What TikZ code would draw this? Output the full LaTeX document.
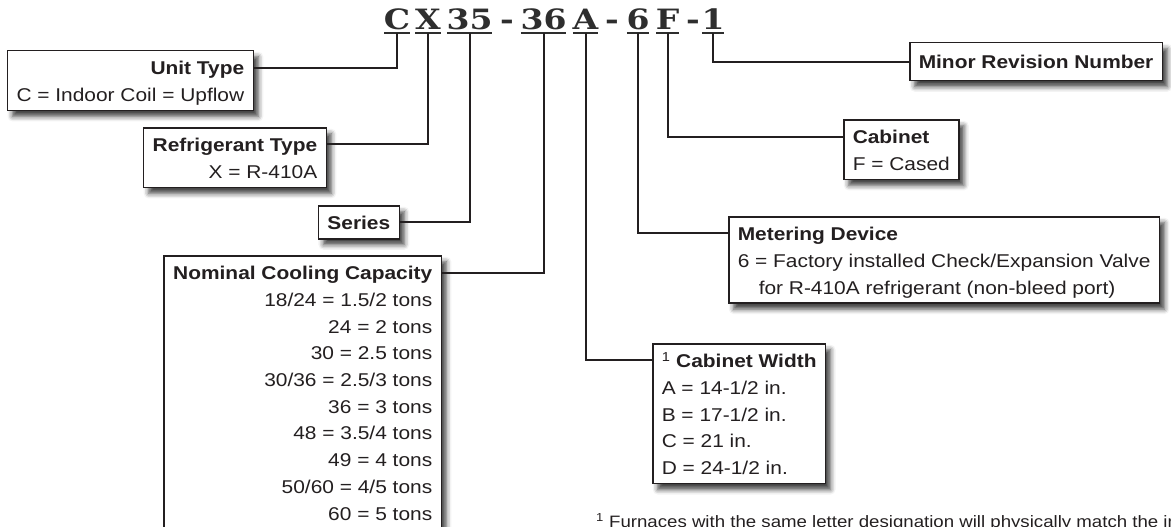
\documentclass[tikz,border=0pt]{standalone}
\usepackage{fontspec}
\setmainfont[FakeStretch=1.13]{Liberation Sans}
\newfontfamily\codefont[FakeStretch=1.18]{DejaVu Serif}
\usetikzlibrary{shadows.blur}
\definecolor{ink}{HTML}{231F20}
\newcommand{\hstrut}{\rule{0pt}{24pt}}
\newcommand{\fstrut}{\rule[-9pt]{0pt}{9pt}}

\begin{document}
\begin{tikzpicture}[x=1pt, y=-1pt,
    box/.style={draw=ink, line width=1.5pt, fill=white, text=ink, inner xsep=9pt, inner ysep=0pt,
        font=\fontsize{18.5}{26.7}\selectfont,
        blur shadow={shadow xshift=5pt, shadow yshift=-6pt, shadow blur radius=5pt, shadow opacity=75}},
    link/.style={draw=ink, line width=2pt},
    codechar/.style={font=\codefont\bfseries\fontsize{28}{30}\selectfont, text=black!82, anchor=base,
        inner xsep=1pt, inner ysep=3pt, text height=20pt, text depth=0pt},
    uline/.style={draw=black!82, line width=2pt, shorten <=1.5pt, shorten >=1.5pt},
    note/.style={font=\fontsize{16.5}{20}\selectfont, text=ink, inner sep=0pt, anchor=base west}]
    \useasboundingbox (0,0) rectangle (1171,527);
    \clip (0,0) rectangle (1171,527);

    % Model number
    \node[codechar] (cC) at (397,30) {C};
    \node[codechar] (cX) at (428,30) {X};
    \node[codechar] (c35) at (469.5,30) {35};
    \node[codechar] (d1) at (507,30) {-};
    \node[codechar] (c36) at (543.5,30) {36};
    \node[codechar] (cA) at (585.5,30) {A};
    \node[codechar] (d2) at (612,30) {-};
    \node[codechar] (c6) at (638,30) {6};
    \node[codechar] (cF) at (667.5,30) {F};
    \node[codechar] (d3) at (693,30) {-};
    \node[codechar] (c1) at (713,30) {1};
    \foreach \c in {cC,cX,c35,c36,cA,c6,cF,c1}
        \draw[uline] (\c.south west) -- (\c.south east);

    % Unit Type
    \node[box, align=right, anchor=north east] (unit) at (254,50)
        {\hstrut\textbf{Unit Type}\\C = Indoor Coil = Upflow\fstrut};
    \draw[link] ([yshift=-18pt]unit.north east) -| (cC.south);

    % Refrigerant Type
    \node[box, align=right, anchor=north east] (refrig) at (327,127)
        {\hstrut\textbf{Refrigerant Type}\\X = R-410A\fstrut};
    \draw[link] ([yshift=-17pt]refrig.north east) -| (cX.south);

    % Series
    \node[box, align=center, anchor=north east] (series) at (400,205)
        {\hstrut\textbf{Series}\fstrut};
    \draw[link] (series.east) -| (c35.south);

    % Nominal Cooling Capacity
    \node[box, align=right, anchor=north east] (nominal) at (442,255)
        {\hstrut\textbf{Nominal Cooling Capacity}\\
         18/24 = 1.5/2 tons\\24 = 2 tons\\30 = 2.5 tons\\30/36 = 2.5/3 tons\\36 = 3 tons\\
         48 = 3.5/4 tons\\49 = 4 tons\\50/60 = 4/5 tons\\60 = 5 tons\rule[-20pt]{0pt}{20pt}};
    \draw[link] ([yshift=-18pt]nominal.north east) -| (c36.south);

    % Cabinet Width
    \node[box, align=left, anchor=north west] (width) at (652,343)
        {\hstrut\textsuperscript{1} \textbf{Cabinet Width}\\A = 14-1/2 in.\\B = 17-1/2 in.\\
         C = 21 in.\\D = 24-1/2 in.\fstrut};
    \draw[link] ([yshift=-17pt]width.north west) -| (cA.south);

    % Metering Device
    \node[box, align=left, anchor=north west] (meter) at (728,216)
        {\hstrut\textbf{Metering Device}\\6 = Factory installed Check/Expansion Valve\\
         \hspace*{21pt}for R-410A refrigerant (non-bleed port)\fstrut};
    \draw[link] ([yshift=-17pt]meter.north west) -| (c6.south);

    % Cabinet
    \node[box, align=left, anchor=north west] (cabinet) at (843,119)
        {\hstrut\textbf{Cabinet}\\F = Cased\fstrut};
    \draw[link] ([yshift=-18pt]cabinet.north west) -| (cF.south);

    % Minor Revision Number
    \node[box, align=center, anchor=north west] (minor) at (909,42)
        {\rule{0pt}{26pt}\textbf{Minor Revision Number}\rule[-12pt]{0pt}{12pt}};
    \draw[link] (minor.west) -| (c1.south);

    % Footnote
    \node[note] (fn) at (596,527.5)
        {\textsuperscript{1} Furnaces with the same letter designation will physically match the indoor coil.};
\end{tikzpicture}
\end{document}
